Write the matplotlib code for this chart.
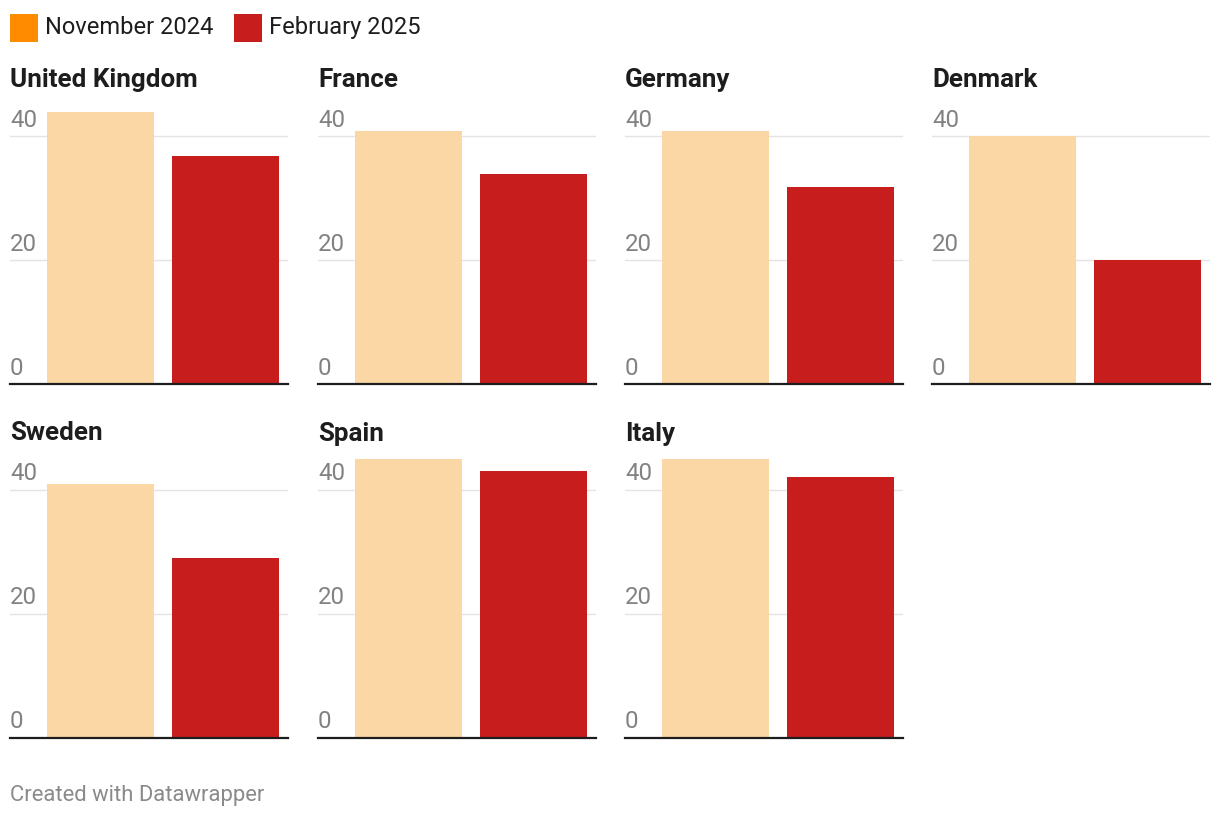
import matplotlib
matplotlib.use("Agg")
import matplotlib.pyplot as plt
import matplotlib.transforms as mtransforms
from matplotlib.patches import Rectangle

# Data
countries = ['United Kingdom', 'France', 'Germany', 'Denmark',
             'Sweden', 'Spain', 'Italy']
nov2024 = [43.9, 40.9, 40.9, 40.0, 40.9, 45.0, 44.9]
feb2025 = [36.8, 34.0, 31.9, 20.0, 29.0, 43.0, 42.0]
series_labels = ['November 2024', 'February 2025']
yticks = [0, 20, 40]

plt.rcParams['font.family'] = ['Roboto', 'DejaVu Sans']

W, H = 1220, 818
fig = plt.figure(figsize=(W / 100, H / 100), dpi=100)

light = '#fcd7a6'
red = '#c71e1d'
legend_orange = '#ff8c00'
tick_grey = '#828282'
text_dark = '#1d1d1d'

def fx(x):
    return x / W

def fy(y):
    return 1 - y / H

col_left = [10, 318, 625, 932]
row_base = [384.3, 737.5]
ax_w = 278
px_per_unit = 6.2
ymax = 46.5
ax_h = ymax * px_per_unit

for i, name in enumerate(countries):
    r, c = divmod(i, 4)
    left = col_left[c]
    base = row_base[r]
    ax = fig.add_axes([fx(left), fy(base), ax_w / W, ax_h / H])
    ax.set_xlim(-0.724, 1.5)
    ax.set_ylim(0, ymax)
    for t in yticks[1:]:
        ax.axhline(t, color='#e4e4e4', lw=1.0, zorder=1)
    ax.bar([0, 1], [nov2024[i], feb2025[i]], width=0.856,
           color=[light, red], zorder=2)
    ax.axhline(0, color=text_dark, lw=1.6, zorder=3, clip_on=False)
    trans = mtransforms.blended_transform_factory(ax.transAxes, ax.transData)
    trans = mtransforms.offset_copy(trans, fig=fig, x=0, y=9.5, units='dots')
    for t in yticks:
        ax.text(0, t, str(t), transform=trans, ha='left', va='baseline',
                fontsize=17.3, color=tick_grey, zorder=4)
    for s in ax.spines.values():
        s.set_visible(False)
    ax.set_xticks([])
    ax.set_yticks([])
    ax.patch.set_alpha(0)
    fig.text(fx(left), fy(base - 297), name, fontsize=18.7, fontweight='bold',
             color=text_dark, ha='left', va='baseline')

# Legend
for x0, col, lab in [(10, legend_orange, series_labels[0]),
                     (234, red, series_labels[1])]:
    fig.add_artist(Rectangle((fx(x0), fy(42)), 28 / W, 28 / H,
                             transform=fig.transFigure, color=col, lw=0))
    fig.text(fx(x0 + 35), fy(34), lab, fontsize=17, color=text_dark,
             ha='left', va='baseline')

fig.text(fx(10), fy(801), 'Created with Datawrapper', fontsize=15.8,
         color='#8a8a8a', ha='left', va='baseline')

plt.savefig('out.png', dpi=100, facecolor='white')
